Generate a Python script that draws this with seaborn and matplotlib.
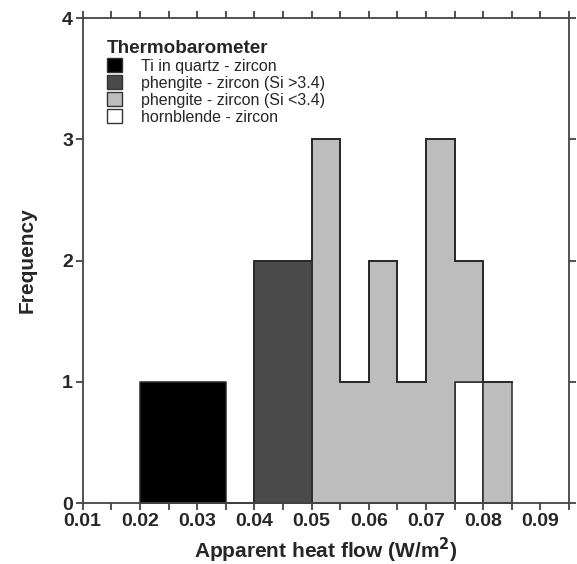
import numpy as np
import pandas as pd
import matplotlib
matplotlib.use("Agg")
import matplotlib.pyplot as plt
from matplotlib.patches import Patch
import seaborn as sns

# ---- data (counts per 0.005 W/m2 bin) ----
bin_left = [0.020, 0.025, 0.030, 0.035, 0.040, 0.045, 0.050,
            0.055, 0.060, 0.065, 0.070, 0.075, 0.080]
bin_edges = [0.020, 0.025, 0.030, 0.035, 0.040, 0.045, 0.050,
             0.055, 0.060, 0.065, 0.070, 0.075, 0.080, 0.085]
ti_quartz = [1, 1, 1, 0, 0, 0, 0, 0, 0, 0, 0, 0, 0]
phengite_hi = [0, 0, 0, 0, 2, 2, 0, 0, 0, 0, 0, 0, 0]
phengite_lo = [0, 0, 0, 0, 0, 0, 3, 1, 2, 1, 3, 1, 1]
hornblende = [0, 0, 0, 0, 0, 0, 0, 0, 0, 0, 0, 1, 0]

series_names = ["Ti in quartz - zircon",
                "phengite - zircon (Si >3.4)",
                "phengite - zircon (Si <3.4)",
                "hornblende - zircon"]
series_counts = [ti_quartz, phengite_hi, phengite_lo, hornblende]
colors = ["#000000", "#4a4a4a", "#bdbdbd", "#ffffff"]

x_ticks = [0.01, 0.015, 0.02, 0.025, 0.03, 0.035, 0.04, 0.045, 0.05,
           0.055, 0.06, 0.065, 0.07, 0.075, 0.08, 0.085, 0.09, 0.095]
x_ticklabels = ["0.01", "", "0.02", "", "0.03", "", "0.04", "", "0.05",
                "", "0.06", "", "0.07", "", "0.08", "", "0.09", ""]
y_ticks = [0, 1, 2, 3, 4]

rows = []
for name, counts in zip(series_names, series_counts):
    for left, c in zip(bin_left, counts):
        rows.append({"flow": left + 0.0025, "count": c, "group": name})
df = pd.DataFrame(rows)

sns.set_style("ticks")
plt.rcParams["font.family"] = ["Liberation Sans", "DejaVu Sans"]

fig = plt.figure(figsize=(5.77, 5.64), dpi=100)
ax = fig.add_axes([0.1433, 0.108, 0.843, 0.86])

edge = "#2a2a2a"
sns.histplot(data=df, x="flow", weights="count", hue="group",
             hue_order=series_names, palette=colors, bins=bin_edges,
             multiple="stack", element="step", fill=True, alpha=1,
             edgecolor=edge, linewidth=1.1, legend=False, ax=ax)

ax.set_xlim(0.01, 0.095)
ax.set_ylim(0, 4)
ax.set_xticks(x_ticks)
ax.set_xticklabels(x_ticklabels)
ax.set_yticks(y_ticks)
ax.tick_params(axis="both", which="major", direction="out", length=5,
               width=1.2, color="#333333", labelsize=14,
               top=True, right=True, pad=2)
for lab in ax.get_xticklabels() + ax.get_yticklabels():
    lab.set_fontweight("bold")
for s in ax.spines.values():
    s.set_visible(True)
    s.set_linewidth(1.3)
    s.set_color("#444444")

ax.set_xlabel("Apparent heat flow (W/m$^\\mathbf{2}$)", fontsize=15,
              fontweight="bold", labelpad=4.5)
ax.set_ylabel("Frequency", fontsize=15, fontweight="bold", labelpad=18)

handles = [Patch(facecolor=c, edgecolor="#333333", linewidth=1.0)
           for c in colors]
leg = ax.legend(handles, series_names, title="Thermobarometer",
                loc="upper left", bbox_to_anchor=(0.03, 0.975),
                frameon=False, fontsize=11.5, handlelength=0.95,
                handleheight=0.95, handletextpad=1.2, labelspacing=0.1,
                borderaxespad=0.2)
leg.get_title().set_fontweight("bold")
leg.get_title().set_fontsize(13.6)
leg._legend_box.align = "left"

fig.savefig("out.png", dpi=100)
